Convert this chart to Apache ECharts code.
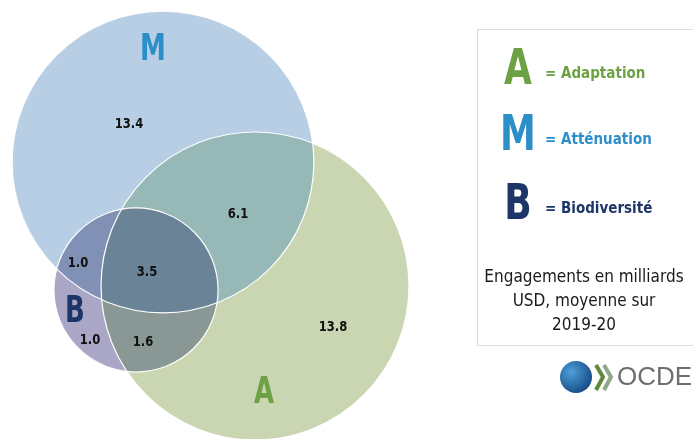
<!DOCTYPE html>
<html><head><meta charset="utf-8">
<script src="https://cdn.jsdelivr.net/npm/echarts@6/dist/echarts.min.js"></script>
<style>html,body{margin:0;padding:0;background:#fff}#c{width:693px;height:439px}</style>
</head><body><div id="c"></div>
<script>
// ---- data ----
const setKeys = ['M', 'A', 'B'];
const setNames = ['Atténuation', 'Adaptation', 'Biodiversité'];
const legendOrder = ['A', 'M', 'B'];
const regionKeys = ['M', 'A', 'B', 'MA', 'MB', 'AB', 'MAB'];
const regionValues = [13.4, 13.8, 1.0, 6.1, 1.0, 1.6, 3.5];
const captionLines = ['Engagements en milliards', 'USD, moyenne sur', '2019-20'];

// ---- layout (chart units) ----
const circleCenters = { M: [163, 162], A: [255, 286], B: [136, 290] };
const radiusPerSqrtUnit = 30.8;
const regionLabelPos = { M: [129, 124], A: [333, 327], B: [90, 340], MA: [238, 214], MB: [78, 263], AB: [143, 342], MAB: [147, 272] };
const letterPos = { M: [153, 50], A: [264, 393], B: [75, 312] };

// ---- styles ----
const FONT = "'Liberation Sans Narrow','DejaVu Sans Condensed',sans-serif";
const setColors = { M: '#2d8fc8', A: '#6da143', B: '#1e3567' };
const regionColors = { M: '#b8cee4', A: '#cad5b1', B: '#a9a6c6', MA: '#96b8b7', MB: '#8091b5', AB: '#899895', MAB: '#6b8396' };

const setTotals = {};
setKeys.forEach(s => {
  setTotals[s] = regionKeys.reduce((acc, k, i) => acc + (k.indexOf(s) >= 0 ? regionValues[i] : 0), 0);
});
const setRadius = {};
setKeys.forEach(s => { setRadius[s] = radiusPerSqrtUnit * Math.sqrt(setTotals[s]); });

function circlesFor(key, api) {
  return key.split('').map(s => ({ c: api.coord(circleCenters[s]), r: api.size([setRadius[s], 0])[0] }));
}
function insideC(p, c) {
  const dx = p[0] - c.c[0], dy = p[1] - c.c[1];
  return dx * dx + dy * dy <= c.r * c.r + 0.5;
}
function regionPolygon(circles) {
  const pts = [];
  circles.forEach((ci, i) => {
    const N = 900;
    for (let k = 0; k < N; k++) {
      const t = k / N * 2 * Math.PI;
      const p = [ci.c[0] + ci.r * Math.cos(t), ci.c[1] + ci.r * Math.sin(t)];
      if (circles.every((cj, j) => j === i || insideC(p, cj))) pts.push(p);
    }
  });
  for (let i = 0; i < circles.length; i++) for (let j = i + 1; j < circles.length; j++) {
    const a = circles[i], b = circles[j];
    const dx = b.c[0] - a.c[0], dy = b.c[1] - a.c[1];
    const d = Math.sqrt(dx * dx + dy * dy);
    const l = (a.r * a.r - b.r * b.r + d * d) / (2 * d);
    const h = Math.sqrt(Math.max(0, a.r * a.r - l * l));
    const px = a.c[0] + l * dx / d, py = a.c[1] + l * dy / d;
    [[px + h * dy / d, py - h * dx / d], [px - h * dy / d, py + h * dx / d]].forEach(p => {
      if (circles.every((c, k) => k === i || k === j || insideC(p, c))) pts.push(p);
    });
  }
  let cx = 0, cy = 0;
  pts.forEach(p => { cx += p[0]; cy += p[1]; });
  cx /= pts.length; cy /= pts.length;
  pts.sort((p, q) => Math.atan2(p[1] - cy, p[0] - cx) - Math.atan2(q[1] - cy, q[0] - cx));
  return pts;
}

const paintOrder = ['M', 'A', 'MA', 'B', 'MB', 'AB', 'MAB'];

const chart = echarts.init(document.getElementById('c'), null, { renderer: 'canvas' });

const graphics = [];
// legend box
graphics.push({ type: 'rect', shape: { x: 477.5, y: 29.5, width: 230, height: 316 }, style: { fill: '#fff', stroke: '#dcdcdc', lineWidth: 1 }, z: 1 });
const legendY = { A: 71, M: 137, B: 206 };
legendOrder.forEach(s => {
  const idx = setKeys.indexOf(s);
  graphics.push({ type: 'text', x: 518, y: legendY[s], scaleX: 0.8, style: { text: s, font: 'bold 50px ' + FONT, fill: setColors[s], align: 'center', verticalAlign: 'middle' }, z: 2 });
  graphics.push({ type: 'text', x: 545, y: legendY[s] + 3, style: { text: '= ' + setNames[idx], font: 'bold 15px ' + FONT, fill: setColors[s], align: 'left', verticalAlign: 'middle' }, z: 2 });
});
captionLines.forEach((t, i) => {
  graphics.push({ type: 'text', x: 584, y: 278 + i * 24, style: { text: t, font: '17px ' + FONT, fill: '#1a1a1a', align: 'center', verticalAlign: 'middle' }, z: 2 });
});
// logo
graphics.push({ type: 'circle', shape: { cx: 576, cy: 377, r: 16 }, style: { fill: new echarts.graphic.RadialGradient(0.35, 0.35, 0.8, [{ offset: 0, color: '#4f9fd8' }, { offset: 1, color: '#0d3f7a' }]) }, z: 2 });
graphics.push({ type: 'polyline', shape: { points: [[596, 365], [603, 377], [596, 390]] }, style: { stroke: '#5f8a3a', lineWidth: 4, fill: null }, z: 2 });
graphics.push({ type: 'polyline', shape: { points: [[604, 365], [611, 377], [604, 390]] }, style: { stroke: '#8fa88a', lineWidth: 4, fill: null }, z: 2 });
graphics.push({ type: 'text', x: 617, y: 378, style: { text: 'OCDE', font: '26px ' + "'Liberation Sans','DejaVu Sans',sans-serif", fill: '#6d6e71', align: 'left', verticalAlign: 'middle' }, z: 2 });

chart.setOption({
  animation: false,
  backgroundColor: '#fff',
  grid: { left: 0, right: 0, top: 0, bottom: 0 },
  xAxis: { type: 'value', min: 0, max: 693, show: false },
  yAxis: { type: 'value', min: 0, max: 439, inverse: true, show: false },
  graphic: graphics,
  series: [
    {
      type: 'custom', name: 'regions', clip: false, z: 1,
      data: paintOrder.map(k => ({ name: k, value: circleCenters[k[0]] })),
      renderItem: function (params, api) {
        const key = paintOrder[params.dataIndex];
        const cs = circlesFor(key, api);
        if (cs.length === 1) {
          return { type: 'circle', shape: { cx: cs[0].c[0], cy: cs[0].c[1], r: cs[0].r }, style: { fill: regionColors[key] } };
        }
        return { type: 'polygon', shape: { points: regionPolygon(cs) }, style: { fill: regionColors[key] } };
      }
    },
    {
      type: 'custom', name: 'outlines', clip: false, z: 2,
      data: setKeys.map(s => ({ name: s, value: circleCenters[s] })),
      renderItem: function (params, api) {
        const s = setKeys[params.dataIndex];
        const c = api.coord(circleCenters[s]);
        const r = api.size([setRadius[s], 0])[0];
        return { type: 'circle', shape: { cx: c[0], cy: c[1], r: r }, style: { fill: null, stroke: '#ffffff', lineWidth: 1.2 } };
      }
    },
    {
      type: 'custom', name: 'values', clip: false, z: 3,
      data: regionKeys.map((k, i) => ({ name: k, value: regionLabelPos[k].concat([regionValues[i]]) })),
      renderItem: function (params, api) {
        const p = api.coord([api.value(0), api.value(1)]);
        return { type: 'text', x: p[0], y: p[1], scaleX: 0.92, style: { text: api.value(2).toFixed(1), font: 'bold 14px ' + FONT, fill: '#111', align: 'center', verticalAlign: 'middle' } };
      }
    },
    {
      type: 'custom', name: 'letters', clip: false, z: 3,
      data: setKeys.map(s => ({ name: s, value: letterPos[s] })),
      renderItem: function (params, api) {
        const s = setKeys[params.dataIndex];
        const p = api.coord([api.value(0), api.value(1)]);
        return { type: 'text', x: p[0], y: p[1], scaleX: 0.78, style: { text: s, font: 'bold 37px ' + FONT, fill: setColors[s], align: 'center', verticalAlign: 'middle' } };
      }
    }
  ]
});
</script></body></html>
